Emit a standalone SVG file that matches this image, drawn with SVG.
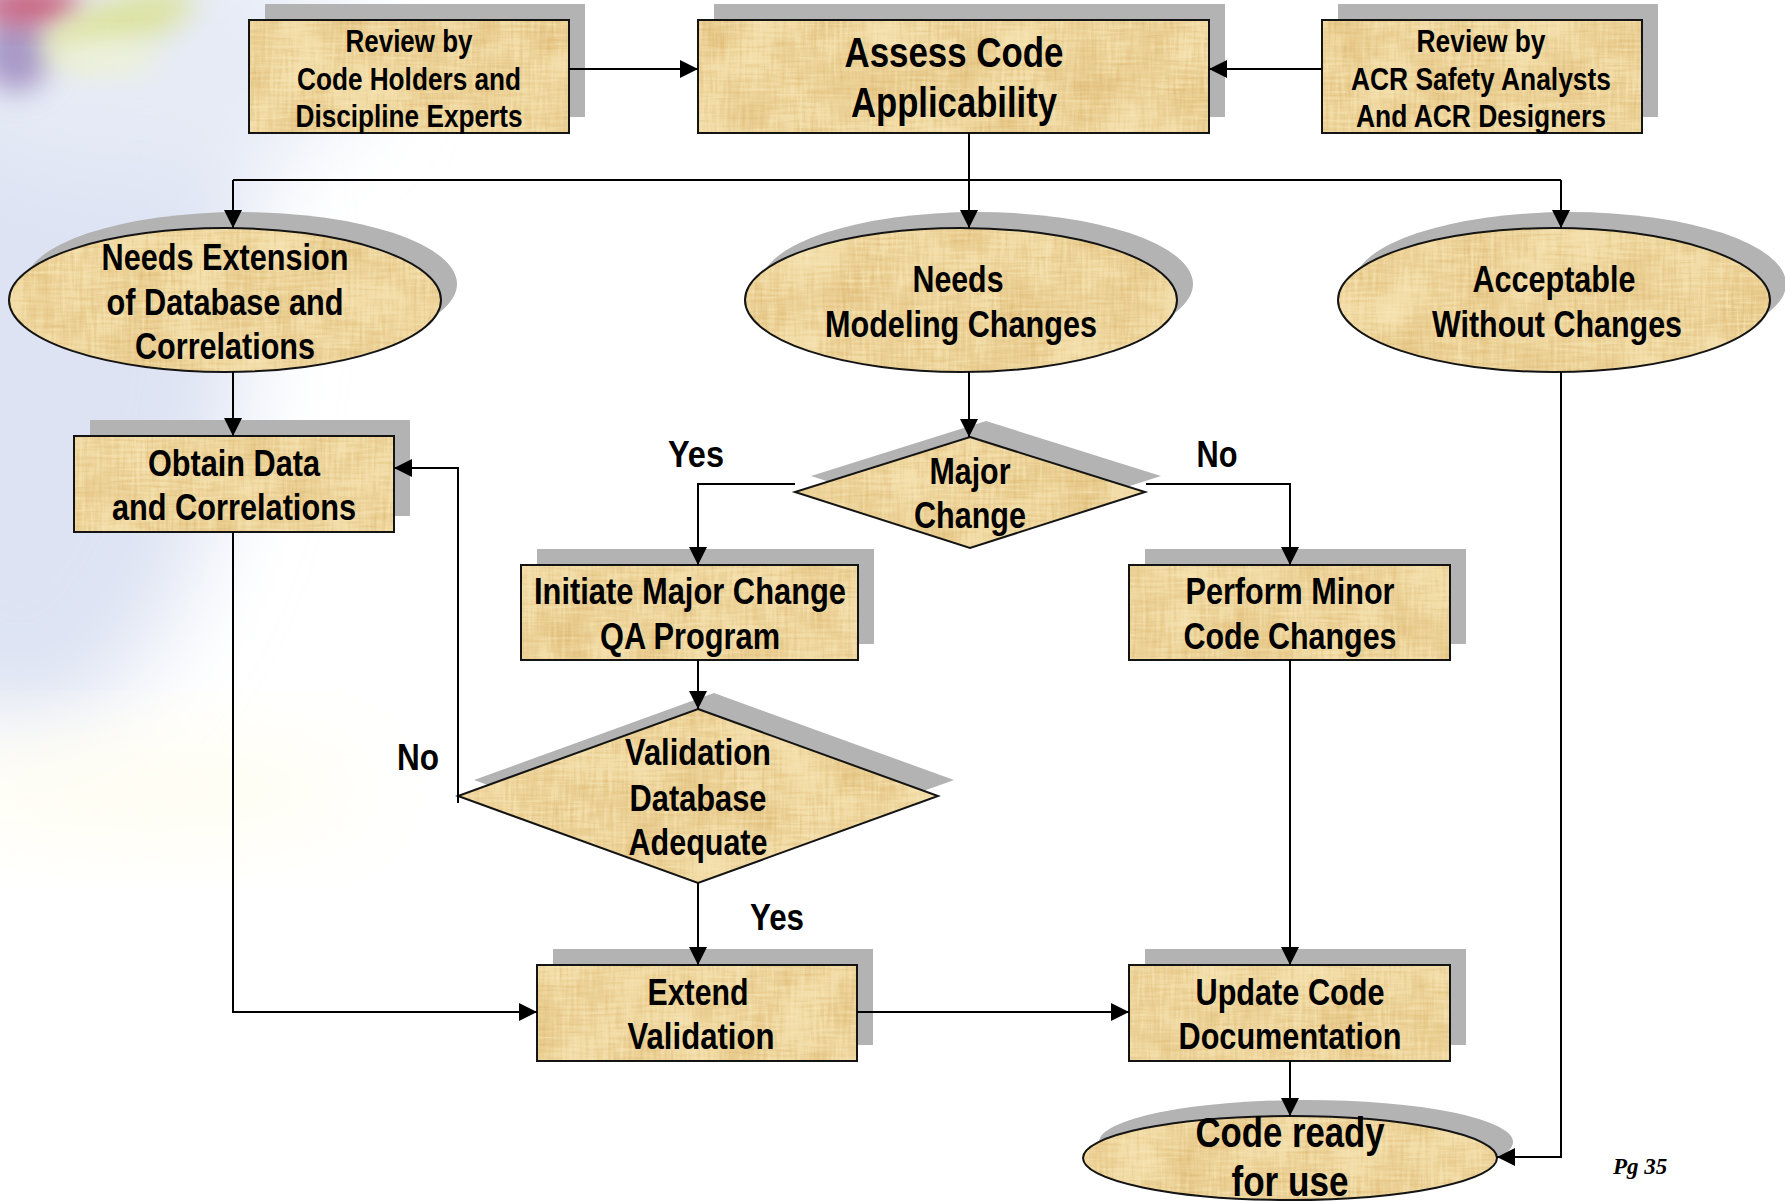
<svg xmlns="http://www.w3.org/2000/svg" width="1785" height="1201" viewBox="0 0 1785 1201">
  <defs>
    <style>
      .shadow { fill: #b3b3b3; stroke: none; }
      .paper { fill: #f0d9a2; stroke: none; filter: url(#papyrus); }
      .edge { fill: none; stroke: #141414; stroke-width: 2; }
      .t { font-family: "Liberation Sans Narrow", "Liberation Sans", Arial, sans-serif; font-weight: bold; text-anchor: middle; fill: #000; }
      .s32 { font-size: 32px; }
      .s37 { font-size: 37px; }
      .s42 { font-size: 42px; }
      .wire { fill: none; stroke: #000; stroke-width: 2; }
      .head { marker-end: url(#arrow); }
      .pg { font-family: "Liberation Serif", "Times New Roman", serif; font-style: italic; font-weight: bold; font-size: 23px; fill: #000; }
    </style>
    <marker id="arrow" markerUnits="userSpaceOnUse" markerWidth="18" markerHeight="18" refX="18" refY="9" orient="auto">
      <path d="M0,0 L18,9 L0,18 Z" fill="#000"/>
    </marker>
    <!-- papyrus-like grain for node fills -->
    <filter id="papyrus" x="0" y="0" width="1" height="1" color-interpolation-filters="sRGB">
      <feTurbulence type="fractalNoise" baseFrequency="0.35 0.03" numOctaves="2" seed="4" result="fibV"/>
      <feTurbulence type="fractalNoise" baseFrequency="0.03 0.35" numOctaves="2" seed="11" result="fibH"/>
      <feTurbulence type="fractalNoise" baseFrequency="0.018" numOctaves="3" seed="21" result="blot"/>
      <feComposite in="fibV" in2="fibH" operator="arithmetic" k2="0.5" k3="0.5" result="fib"/>
      <feComposite in="fib" in2="blot" operator="arithmetic" k2="0.6" k3="0.4" result="mix"/>
      <feColorMatrix in="mix" type="matrix" values="0 0 0 0 0.80  0 0 0 0 0.60  0 0 0 0 0.27  1.4 0 0 0 -0.62" result="dark"/>
      <feColorMatrix in="mix" type="matrix" values="0 0 0 0 1  0 0 0 0 0.96  0 0 0 0 0.82  -1.8 0 0 0 0.86" result="light"/>
      <feMerge result="tex">
        <feMergeNode in="SourceGraphic"/>
        <feMergeNode in="dark"/>
        <feMergeNode in="light"/>
      </feMerge>
      <feComposite in="tex" in2="SourceGraphic" operator="in"/>
    </filter>
    <filter id="soft" x="-50%" y="-50%" width="200%" height="200%">
      <feGaussianBlur stdDeviation="14"/>
    </filter>
    <filter id="haze" x="-50%" y="-50%" width="200%" height="200%">
      <feGaussianBlur stdDeviation="45"/>
    </filter>
  </defs>

  <!-- page background -->
  <rect x="0" y="0" width="1785" height="1201" fill="#ffffff"/>
  <g id="backdrop">
    <ellipse cx="20" cy="260" rx="230" ry="470" fill="#dde3f3" filter="url(#haze)"/>
    <ellipse cx="140" cy="60" rx="230" ry="120" fill="#e6ebf6" filter="url(#haze)"/>
    <ellipse cx="150" cy="790" rx="220" ry="50" fill="#fffdf0" filter="url(#haze)"/>
    <ellipse cx="16" cy="52" rx="36" ry="40" fill="#a99ac8" filter="url(#soft)"/>
    <ellipse cx="30" cy="6" rx="52" ry="20" fill="#c8607f" filter="url(#soft)"/>
    <ellipse cx="118" cy="24" rx="80" ry="26" fill="#dde3a3" transform="rotate(-18 118 24)" filter="url(#soft)"/>
    <ellipse cx="105" cy="58" rx="55" ry="18" fill="#eef2dc" filter="url(#soft)"/>
  </g>

  <!-- nodes -->
  <g id="review-code-holders">
    <rect class="shadow" x="265" y="4" width="320" height="113"/>
    <rect class="paper" x="249" y="20" width="320" height="113"/>
    <rect class="edge" x="249" y="20" width="320" height="113"/>
    <text class="t s32" x="409" y="52" textLength="127" lengthAdjust="spacingAndGlyphs">Review by</text>
    <text class="t s32" x="409" y="90" textLength="224" lengthAdjust="spacingAndGlyphs">Code Holders and</text>
    <text class="t s32" x="409" y="127" textLength="227" lengthAdjust="spacingAndGlyphs">Discipline Experts</text>
  </g>

  <g id="assess-code">
    <rect class="shadow" x="714" y="4" width="511" height="113"/>
    <rect class="paper" x="698" y="20" width="511" height="113"/>
    <rect class="edge" x="698" y="20" width="511" height="113"/>
    <text class="t s42" x="954" y="67" textLength="219" lengthAdjust="spacingAndGlyphs">Assess Code</text>
    <text class="t s42" x="954" y="117" textLength="206" lengthAdjust="spacingAndGlyphs">Applicability</text>
  </g>

  <g id="review-acr">
    <rect class="shadow" x="1338" y="4" width="320" height="113"/>
    <rect class="paper" x="1322" y="20" width="320" height="113"/>
    <rect class="edge" x="1322" y="20" width="320" height="113"/>
    <text class="t s32" x="1481" y="52" textLength="129" lengthAdjust="spacingAndGlyphs">Review by</text>
    <text class="t s32" x="1481" y="90" textLength="260" lengthAdjust="spacingAndGlyphs">ACR Safety Analysts</text>
    <text class="t s32" x="1481" y="127" textLength="250" lengthAdjust="spacingAndGlyphs">And ACR Designers</text>
  </g>

  <g id="needs-extension">
    <ellipse class="shadow" cx="241" cy="284" rx="216" ry="72"/>
    <ellipse class="paper" cx="225" cy="300" rx="216" ry="72"/>
    <ellipse class="edge" cx="225" cy="300" rx="216" ry="72"/>
    <text class="t s37" x="225" y="270" textLength="247" lengthAdjust="spacingAndGlyphs">Needs Extension</text>
    <text class="t s37" x="225" y="315" textLength="237" lengthAdjust="spacingAndGlyphs">of Database and</text>
    <text class="t s37" x="225" y="359" textLength="180" lengthAdjust="spacingAndGlyphs">Correlations</text>
  </g>

  <g id="needs-modeling">
    <ellipse class="shadow" cx="977" cy="284" rx="216" ry="72"/>
    <ellipse class="paper" cx="961" cy="300" rx="216" ry="72"/>
    <ellipse class="edge" cx="961" cy="300" rx="216" ry="72"/>
    <text class="t s37" x="958" y="292" textLength="91" lengthAdjust="spacingAndGlyphs">Needs</text>
    <text class="t s37" x="961" y="337" textLength="272" lengthAdjust="spacingAndGlyphs">Modeling Changes</text>
  </g>

  <g id="acceptable">
    <ellipse class="shadow" cx="1570" cy="284" rx="216" ry="72"/>
    <ellipse class="paper" cx="1554" cy="300" rx="216" ry="72"/>
    <ellipse class="edge" cx="1554" cy="300" rx="216" ry="72"/>
    <text class="t s37" x="1554" y="292" textLength="163" lengthAdjust="spacingAndGlyphs">Acceptable</text>
    <text class="t s37" x="1557" y="337" textLength="250" lengthAdjust="spacingAndGlyphs">Without Changes</text>
  </g>

  <g id="obtain-data">
    <rect class="shadow" x="90" y="420" width="320" height="96"/>
    <rect class="paper" x="74" y="436" width="320" height="96"/>
    <rect class="edge" x="74" y="436" width="320" height="96"/>
    <text class="t s37" x="234" y="476" textLength="172" lengthAdjust="spacingAndGlyphs">Obtain Data</text>
    <text class="t s37" x="234" y="520" textLength="244" lengthAdjust="spacingAndGlyphs">and Correlations</text>
  </g>

  <g id="major-change">
    <polygon class="shadow" points="986,421 1161,476 986,532 811,476"/>
    <polygon class="paper" points="970,437 1145,492 970,548 795,492"/>
    <polygon class="edge" points="970,437 1145,492 970,548 795,492"/>
    <text class="t s37" x="970" y="484" textLength="81" lengthAdjust="spacingAndGlyphs">Major</text>
    <text class="t s37" x="970" y="528" textLength="112" lengthAdjust="spacingAndGlyphs">Change</text>
  </g>

  <g id="initiate-major">
    <rect class="shadow" x="537" y="549" width="337" height="95"/>
    <rect class="paper" x="521" y="565" width="337" height="95"/>
    <rect class="edge" x="521" y="565" width="337" height="95"/>
    <text class="t s37" x="690" y="604" textLength="312" lengthAdjust="spacingAndGlyphs">Initiate Major Change</text>
    <text class="t s37" x="690" y="649" textLength="180" lengthAdjust="spacingAndGlyphs">QA Program</text>
  </g>

  <g id="perform-minor">
    <rect class="shadow" x="1145" y="549" width="321" height="95"/>
    <rect class="paper" x="1129" y="565" width="321" height="95"/>
    <rect class="edge" x="1129" y="565" width="321" height="95"/>
    <text class="t s37" x="1290" y="604" textLength="209" lengthAdjust="spacingAndGlyphs">Perform Minor</text>
    <text class="t s37" x="1290" y="649" textLength="213" lengthAdjust="spacingAndGlyphs">Code Changes</text>
  </g>

  <g id="validation-adequate">
    <polygon class="shadow" points="714,693 954,780 714,867 474,780"/>
    <polygon class="paper" points="698,709 938,796 698,883 458,796"/>
    <polygon class="edge" points="698,709 938,796 698,883 458,796"/>
    <text class="t s37" x="698" y="765" textLength="146" lengthAdjust="spacingAndGlyphs">Validation</text>
    <text class="t s37" x="698" y="811" textLength="137" lengthAdjust="spacingAndGlyphs">Database</text>
    <text class="t s37" x="698" y="855" textLength="139" lengthAdjust="spacingAndGlyphs">Adequate</text>
  </g>

  <g id="extend-validation">
    <rect class="shadow" x="553" y="949" width="320" height="96"/>
    <rect class="paper" x="537" y="965" width="320" height="96"/>
    <rect class="edge" x="537" y="965" width="320" height="96"/>
    <text class="t s37" x="698" y="1005" textLength="101" lengthAdjust="spacingAndGlyphs">Extend</text>
    <text class="t s37" x="701" y="1049" textLength="147" lengthAdjust="spacingAndGlyphs">Validation</text>
  </g>

  <g id="update-docs">
    <rect class="shadow" x="1145" y="949" width="321" height="96"/>
    <rect class="paper" x="1129" y="965" width="321" height="96"/>
    <rect class="edge" x="1129" y="965" width="321" height="96"/>
    <text class="t s37" x="1290" y="1005" textLength="189" lengthAdjust="spacingAndGlyphs">Update Code</text>
    <text class="t s37" x="1290" y="1049" textLength="223" lengthAdjust="spacingAndGlyphs">Documentation</text>
  </g>

  <g id="code-ready">
    <ellipse class="shadow" cx="1306" cy="1142" rx="207" ry="42"/>
    <ellipse class="paper" cx="1290" cy="1158" rx="207" ry="42"/>
    <ellipse class="edge" cx="1290" cy="1158" rx="207" ry="42"/>
    <text class="t s42" x="1290" y="1147" textLength="189" lengthAdjust="spacingAndGlyphs">Code ready</text>
    <text class="t s42" x="1290" y="1196" textLength="117" lengthAdjust="spacingAndGlyphs">for use</text>
  </g>

  <!-- connectors -->
  <g id="connectors">
    <path class="wire head" d="M569,69 H698"/>
    <path class="wire head" d="M1322,69 H1209"/>
    <path class="wire" d="M969,133 V180"/>
    <path class="wire" d="M233,180 H1561"/>
    <path class="wire head" d="M233,180 V228"/>
    <path class="wire head" d="M969,180 V228"/>
    <path class="wire head" d="M1561,180 V228"/>
    <path class="wire head" d="M233,372 V436"/>
    <path class="wire head" d="M969,372 V437"/>
    <path class="wire head" d="M795,484 H698 V565"/>
    <path class="wire head" d="M1146,484 H1290 V565"/>
    <path class="wire head" d="M698,660 V709"/>
    <path class="wire head" d="M458,803 V468 H394"/>
    <path class="wire head" d="M698,883 V965"/>
    <path class="wire head" d="M233,532 V1012 H537"/>
    <path class="wire head" d="M857,1012 H1129"/>
    <path class="wire head" d="M1290,660 V965"/>
    <path class="wire head" d="M1290,1061 V1116"/>
    <path class="wire head" d="M1561,372 V1157 H1497"/>
  </g>

  <!-- branch labels -->
  <g id="labels">
    <text class="t s37" x="696" y="467" textLength="56" lengthAdjust="spacingAndGlyphs">Yes</text>
    <text class="t s37" x="1217" y="467" textLength="41" lengthAdjust="spacingAndGlyphs">No</text>
    <text class="t s37" x="418" y="770" textLength="42" lengthAdjust="spacingAndGlyphs">No</text>
    <text class="t s37" x="777" y="930" textLength="54" lengthAdjust="spacingAndGlyphs">Yes</text>
  </g>

  <text class="pg" x="1613" y="1174">Pg 35</text>
</svg>
